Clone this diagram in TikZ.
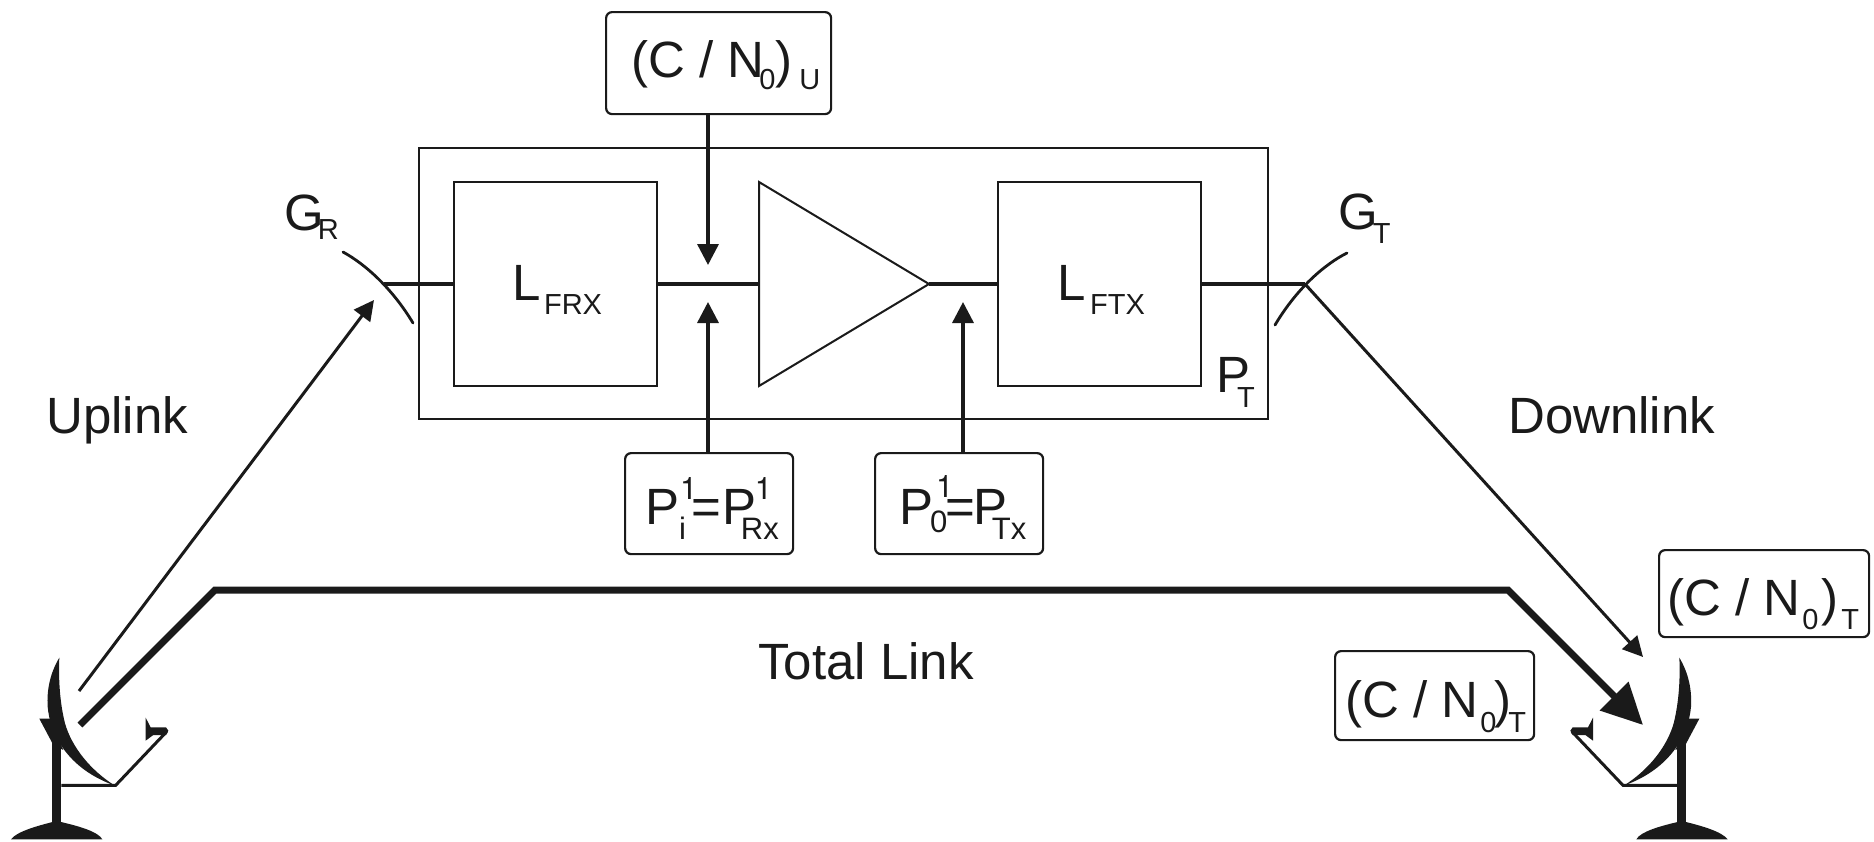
\documentclass[tikz,border=0pt]{standalone}
\usepackage{fontspec}
\setmainfont{Liberation Sans}
\newfontfamily\plainone{TeX Gyre Heros}
\usetikzlibrary{arrows.meta}
\definecolor{ink}{HTML}{1A1A1A}
\newcommand\bigf{\fontsize{51}{60}\selectfont}
\newcommand\smf{\fontsize{29}{34}\selectfont}
\newcommand\mdf{\fontsize{31}{36}\selectfont}
\newcommand\dn[2]{\raisebox{-#1pt}{\smf #2}}
\newcommand\dm[2]{\raisebox{-#1pt}{\mdf #2}}
\newcommand\um[2]{\raisebox{#1pt}{\mdf\plainone #2}}
% text placed with its left end X and its baseline Y from the node's centre
\newcommand\placed[3]{\makebox[0pt][l]{\hspace{#1pt}\raisebox{#2pt}[0pt][0pt]{#3}}}
\newcommand\dishicon{%
  \fill[ink] (178,113) .. controls (150,160) and (140,210) .. (143,260) .. controls (150,340) and (200,445) .. (345,497)
     .. controls (270,450) and (215,380) .. (195,310) .. controls (180,250) and (175,180) .. (178,113) -- cycle;
  \fill[ink] (118,296) -- (150,296) -- (190,390) -- (160,375) -- cycle;
  \fill[ink] (157,350) rectangle (184,612);
  \draw[ink,line width=3pt] (184,496) -- (347,496) -- (500,335);
  \fill[ink] (437,293) -- (452,322) -- (498,322) -- (505,332) -- (498,345) -- (460,345) -- (437,362) -- cycle;
  \fill[ink] (33,658) .. controls (50,635) and (110,618) .. (158,606) -- (183,606) .. controls (235,618) and (295,635) .. (307,658) -- cycle;
}
\tikzset{
  lbl/.style={anchor=base west,inner sep=0pt,text=ink,font=\bigf},
  plain/.style={draw=ink,line width=2pt},
  wire/.style={draw=ink,line width=4pt},
  thin arc/.style={draw=ink,line width=2.8pt,line cap=round},
  arr/.style={draw=ink,line width=3.4pt,-{Triangle[length=21pt,width=21pt]}},
  slant/.style={draw=ink,line width=3pt,-{Triangle[length=20pt,width=20pt]}},
  fat/.style={draw=ink,line width=7pt,line join=miter,-{Triangle[length=41pt,width=39pt]}},
  rbox/.style={draw=ink,line width=2.2pt,rounded corners=6pt,inner sep=0pt,text=ink,font=\bigf,anchor=north west},
}
\begin{document}
\begin{tikzpicture}[x=1pt,y=-1pt]
\useasboundingbox (0,0) rectangle (1874,841);
% satellite
\node[plain,anchor=north west,minimum width=849pt,minimum height=271pt,inner sep=0pt] (sat) at (418,147) {};
\node[plain,anchor=north west,minimum width=203pt,minimum height=204pt,inner sep=0pt] (lfrx) at (453,181) {};
\node[plain,anchor=north west,minimum width=203pt,minimum height=204pt,inner sep=0pt] (lftx) at (996.5,181) {};
\coordinate (ampa) at (759,182);
\coordinate (ampb) at (759,386);
\coordinate (ampc) at (929,284);
\draw[plain,line join=miter] (ampa) -- (ampc) -- (ampb) -- cycle;
\coordinate (ampin) at (759,284);
% antennas on satellite
\coordinate (gr) at (384,284);
\coordinate (gt) at (1305,284);
\coordinate (gra) at (343,252);
\coordinate (grb) at (413,323);
\coordinate (gta) at (1347,253);
\coordinate (gtb) at (1275,325);
\draw[thin arc] (gra) .. controls (365,264) and (392,288) .. (grb);
\draw[thin arc] (gta) .. controls (1325,264) and (1297,288) .. (gtb);
\draw[wire] (gr) -- (lfrx.west |- gr);
\draw[wire] (lfrx.east |- ampin) -- (ampin);
\draw[wire] (ampc) -- (lftx.west |- ampc);
\draw[wire] (lftx.east |- gt) -- (gt);
% text
\node[lbl] (tgr) at (284,230) {G\hspace{-6pt}\dn{9}{R}};
\node[lbl] (tgt) at (1338,229) {G\hspace{-5pt}\dn{14}{T}};
\node[lbl] (tl1) at (512,300) {L\hspace{3.5pt}\dn{14}{FRX}};
\node[lbl] (tl2) at (1057,300) {L\hspace{4.5pt}\dn{14}{FTX}};
\node[lbl] (tpt) at (1216,392) {P\hspace{-13pt}\dn{15}{T}};
\node[lbl] (tup) at (46,433) {Uplink};
\node[lbl] (tdn) at (1508,433) {Downlink};
\node[lbl] (ttl) at (758,679) {Total Link};
% boxes
\node[rbox,minimum width=225pt,minimum height=102pt] (cnu) at (605,11)
  {\placed{-87.5}{-14}{(C / N\hspace{-5pt}\dn{12}{0}\hspace{0pt})\hspace{7pt}\dn{12}{U}}};
\node[rbox,minimum width=168pt,minimum height=101pt] (pi) at (624,452)
  {\placed{-64}{-20.5}{P\rlap{\hspace{1pt}\um{25}{1}}\rlap{\dm{15}{i}}\hspace{12pt}=\hspace{2pt}P\rlap{\hspace{-2pt}\um{25}{1}}\hspace{-16pt}\dm{15}{Rx}}};
\node[rbox,minimum width=168pt,minimum height=101pt] (po) at (874,452)
  {\placed{-60}{-20.5}{P\rlap{\hspace{3pt}\um{27}{1}}\rlap{\hspace{-3pt}\dm{8}{0}}\hspace{12pt}=\hspace{-1pt}P\hspace{-16pt}\dm{15}{Tx}}};
\node[rbox,minimum width=210pt,minimum height=87pt] (cnt1) at (1658,549)
  {\placed{-97}{-21.5}{(C / N\hspace{2pt}\dn{14}{0}\hspace{3pt})\hspace{3pt}\dn{14}{T}}};
\node[rbox,minimum width=199pt,minimum height=89pt] (cnt2) at (1334,650)
  {\placed{-89.5}{-21.5}{(C / N\hspace{2pt}\dn{15}{0}\hspace{-2pt})\hspace{-3pt}\dn{15}{T}}};
% power / C/N arrows
\coordinate (a1) at (708,265);
\coordinate (a2) at (708,302);
\coordinate (a3) at (963,302);
\draw[arr] (cnu.south -| a1) -- (a1);
\draw[arr] (pi.north -| a2) -- (a2);
\draw[arr] (po.north -| a3) -- (a3);
% links
\coordinate (ups) at (79,691);
\coordinate (upe) at (374,300);
\coordinate (dne) at (1643,657);
\draw[slant] (ups) -- (upe);
\draw[slant] (gt) -- (dne);
\coordinate (t0) at (80,725);
\coordinate (t1) at (215,590);
\coordinate (t2) at (1508,590);
\coordinate (t3) at (1643,725);
\draw[fat] (t0) -- (t1) -- (t2) -- (t3);
% dishes
\begin{scope}[shift={(0,620)},x=0.33333pt,y=-0.33333pt]
\dishicon
\end{scope}
\begin{scope}[shift={(1738.67,620)},x=-0.33333pt,y=-0.33333pt]
\dishicon
\end{scope}
\end{tikzpicture}
\end{document}
